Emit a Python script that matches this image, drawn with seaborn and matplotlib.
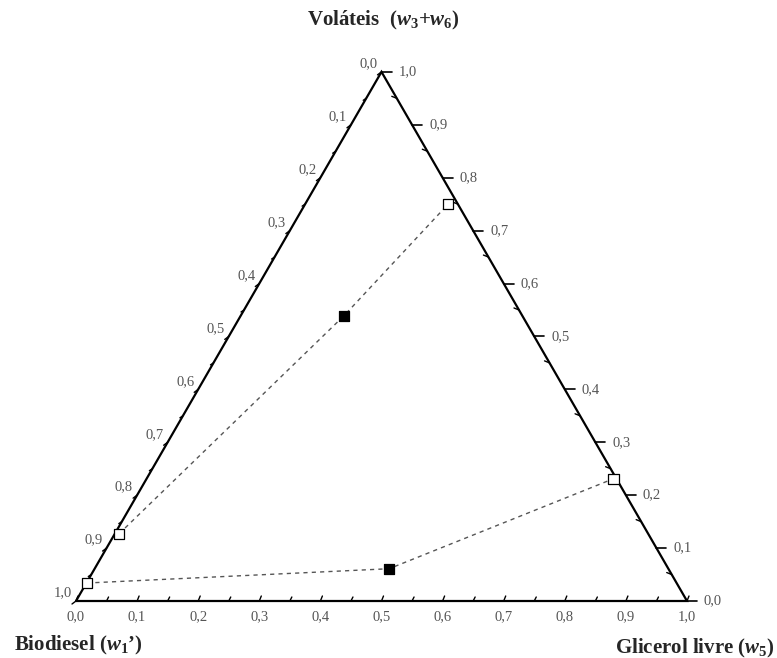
import numpy as np
import pandas as pd
import seaborn as sns
import matplotlib.pyplot as plt

# ===== 数据（三元组成，质量分数） =====
linha = ["A", "A", "A", "B", "B", "B"]
tipo = ["fase", "global", "fase", "fase", "global", "fase"]
w_glicerol = [0.007, 0.169, 0.234, 0.001, 0.482, 0.764]
w_volateis = [0.127, 0.539, 0.750, 0.034, 0.061, 0.231]

tick_vals = [0.0, 0.1, 0.2, 0.3, 0.4, 0.5, 0.6, 0.7, 0.8, 0.9, 1.0]
tick_txt = ["0,0", "0,1", "0,2", "0,3", "0,4", "0,5", "0,6", "0,7", "0,8", "0,9", "1,0"]

# ===== 样式 =====
sns.set_style("white")
plt.rcParams["font.family"] = ["Liberation Serif", "DejaVu Serif"]
plt.rcParams["mathtext.fontset"] = "custom"
plt.rcParams["mathtext.it"] = "Liberation Serif:italic:bold"
plt.rcParams["mathtext.rm"] = "Liberation Serif:bold"

S = np.sqrt(3) / 2
PX = 1 / 611.0  # 一个像素对应的数据单位


def to_xy(g, v):
    g = np.asarray(g, dtype=float)
    v = np.asarray(v, dtype=float)
    return g + v / 2, v * S


df = pd.DataFrame({"linha": linha, "tipo": tipo, "g": w_glicerol, "v": w_volateis})
df["x"], df["y"] = to_xy(df["g"], df["v"])

fig = plt.figure(figsize=(7.77, 6.58), dpi=100)
ax = fig.add_axes([0, 0, 1, 1])
ax.set_xlim(-76 * PX, 701 * PX)
ax.set_ylim(-57 * PX, 601 * PX)
ax.axis("off")

# 三角形边框
tri_x, tri_y = to_xy([0, 1, 0, 0], [0, 0, 1, 0])
ax.plot(tri_x, tri_y, color="black", lw=1.6, solid_joinstyle="miter", zorder=3)

# 连接线
sns.lineplot(data=df, x="x", y="y", units="linha", estimator=None, sort=False,
             color="#555555", lw=1.0, linestyle=(0, (3, 3)), ax=ax, zorder=2)

# 数据点
sns.scatterplot(data=df, x="x", y="y", style="tipo", hue="tipo",
                markers={"fase": "s", "global": "s"},
                palette={"fase": "white", "global": "black"},
                edgecolor="black", linewidth=0.9, s=55, legend=False, ax=ax, zorder=4)

lab_kw = dict(fontsize=10.5, color="#555555")
minor = np.arange(0.05, 1.0, 0.1)

# 底边（甘油）
for val, txt in zip(tick_vals, tick_txt):
    x, y = to_xy(val, 0)
    ax.plot([x, x + 2 * PX], [y, y + 5 * PX], color="black", lw=1.0)
    ax.text(x, y - 16 * PX, txt, ha="center", va="center", **lab_kw)
for val in minor:
    x, y = to_xy(val, 0)
    ax.plot([x, x + 2 * PX], [y, y + 4 * PX], color="black", lw=1.0)

# 右边（挥发物）
for val, txt in zip(tick_vals, tick_txt):
    x, y = to_xy(1 - val, val)
    ax.plot([x, x + 10 * PX], [y, y], color="black", lw=1.2)
    ax.text(x + 17 * PX, y, txt, ha="left", va="center", **lab_kw)
for val in minor:
    x, y = to_xy(1 - val, val)
    ax.plot([x, x - 5 * PX], [y, y + 2 * PX], color="black", lw=1.0)

# 左边（生物柴油）
for val, txt in zip(tick_vals, tick_txt):
    x, y = to_xy(0, 1 - val)
    ax.plot([x, x - 4 * PX], [y, y - 3 * PX], color="black", lw=1.0)
    ax.text(x - 4 * PX, y + 8 * PX, txt, ha="right", va="center", **lab_kw)
for val in minor:
    x, y = to_xy(0, 1 - val)
    ax.plot([x, x - 3 * PX], [y, y - 2 * PX], color="black", lw=1.0)

# 轴标题
ax.text(307 * PX, 581 * PX, "Voláteis  ($w_3$+$w_6$)", ha="center", va="center",
        fontsize=15, fontweight="bold")
ax.text(-62 * PX, -44 * PX, "Biodiesel ($w_1$’)", ha="left", va="center",
        fontsize=15, fontweight="bold")
ax.text(699 * PX, -47 * PX, "Glicerol livre ($w_5$)", ha="right", va="center",
        fontsize=15, fontweight="bold")

fig.savefig("out.png", dpi=100)
